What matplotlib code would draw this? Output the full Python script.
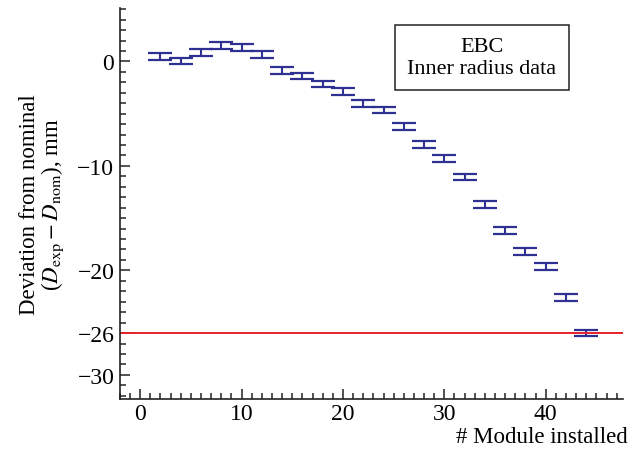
import numpy as np
import matplotlib
matplotlib.use('Agg')
from matplotlib import pyplot as plt
from matplotlib.ticker import MultipleLocator

plt.rcParams['font.family'] = ['Liberation Serif', 'DejaVu Serif']
plt.rcParams['mathtext.fontset'] = 'stix'

# module number vs deviation (mm)
modules = [2, 4, 6, 8, 10, 12, 14, 16, 18, 20, 22,
           24, 26, 28, 30, 32, 34, 36, 38, 40, 42, 44]
deviation = [0.45, 0.05, 0.85, 1.5, 1.3, 0.65, -0.85, -1.4, -2.15, -2.9, -4.0,
             -4.65, -6.2, -7.95, -9.3, -11.05, -13.7, -16.2, -18.2, -19.6, -22.6, -26.0]
err = [0.32] * len(modules)
limit = -26
yticks = [0, -10, -20, -26, -30]

fig = plt.figure(figsize=(6.31, 4.56), dpi=100)
ax = fig.add_axes([0.190, 0.123, 0.797, 0.857])

ax.errorbar(modules, deviation, yerr=err, fmt='none', ecolor='#2e3192',
            elinewidth=1.5, capsize=8.7, capthick=1.6)
ax.axhline(limit, color='#e8202a', lw=1.4)

ax.set_xlim(-2, 47.6)
ax.set_ylim(-32.3, 5.1)
ax.set_yticks(yticks)
ax.set_yticklabels(['0', '\u221210', '\u221220', '\u221226', '\u221230'])
ax.xaxis.set_major_locator(MultipleLocator(10))
ax.xaxis.set_minor_locator(MultipleLocator(1))
ax.yaxis.set_minor_locator(MultipleLocator(1))
ax.tick_params(which='both', direction='in', labelsize=17, width=1.1, color='#222222')
ax.tick_params(which='major', length=7.5)
ax.tick_params(which='minor', length=4.5)
ax.tick_params(axis='x', pad=3)
ax.tick_params(axis='y', pad=4)

for s in ['top', 'right']:
    ax.spines[s].set_visible(False)
for s in ['left', 'bottom']:
    ax.spines[s].set_linewidth(1.2)
    ax.spines[s].set_color('#222222')

ax.set_ylabel('Deviation from nominal\n($D_{\\rm exp} - D_{\\rm nom}$), mm',
              fontsize=16.5, linespacing=1.0, labelpad=8)
ax.set_xlabel('# Module installed', fontsize=16.5, labelpad=1)
ax.xaxis.set_label_coords(1.01, -0.07)
ax.xaxis.label.set_horizontalalignment('right')

ax.text(0.72, 0.873, 'EBC\nInner radius data', transform=ax.transAxes,
        ha='center', va='center', fontsize=16, linespacing=1.2,
        bbox=dict(boxstyle='square,pad=0.55', fc='white', ec='#222222', lw=1.1))

fig.savefig('out.png', dpi=100)
